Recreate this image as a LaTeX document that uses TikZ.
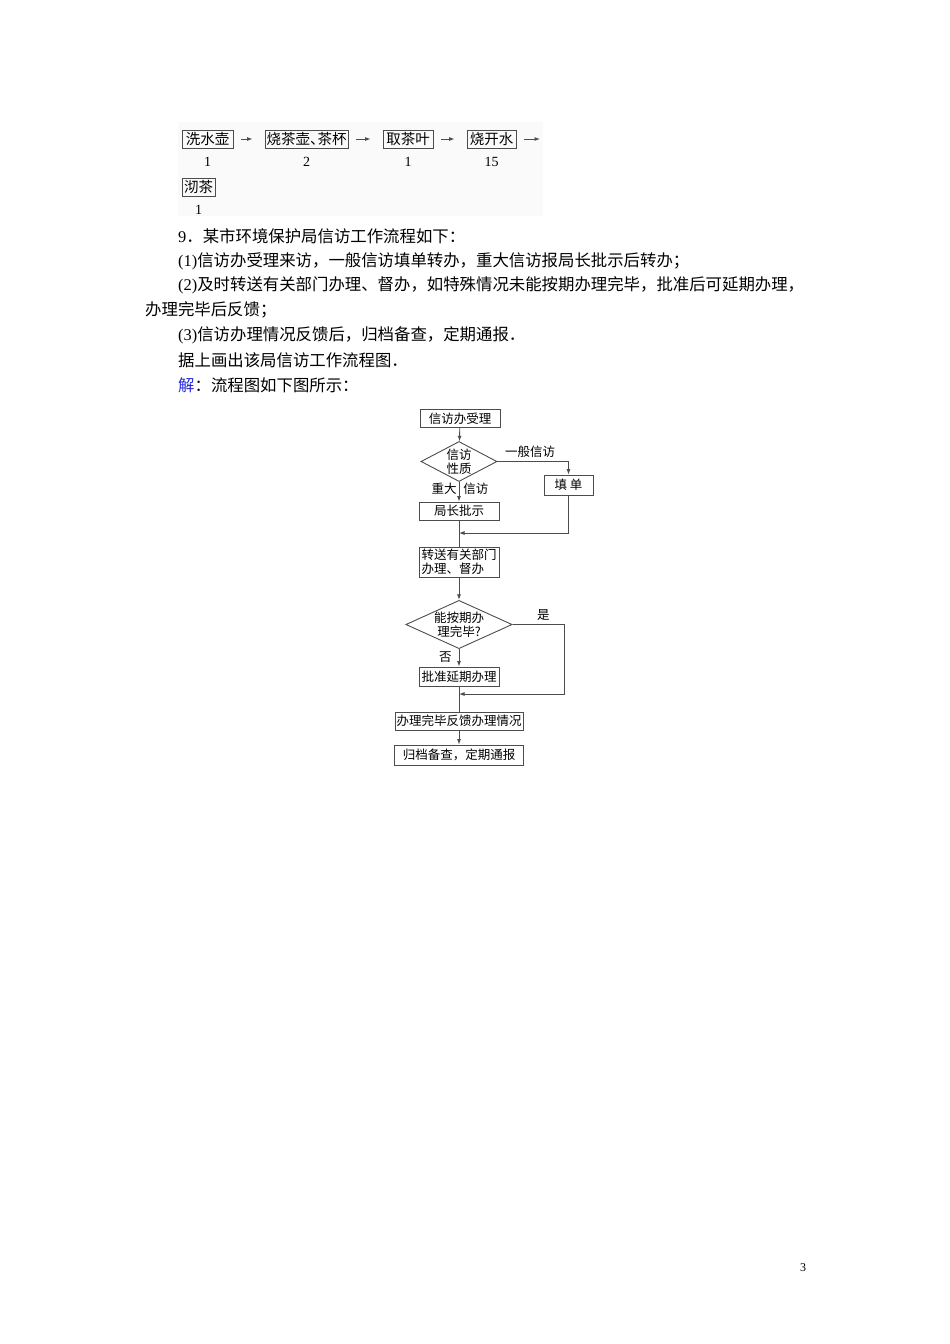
\documentclass[tikz,border=0pt]{standalone}
\usepackage{fontspec}
\setmainfont{Noto Sans CJK SC}
\newfontfamily\latin{Liberation Serif}
\usetikzlibrary{positioning,shapes.geometric,arrows.meta}
\definecolor{solblue}{RGB}{40,40,220}

\begin{document}
\begin{tikzpicture}[
		x=1pt, y=-1pt,
		line/.style={draw=black!70, line width=0.9pt},
		arrow/.style={line, -{Latex[length=5.5pt,width=4pt]}},
		jump/.style={arrow, shorten <=8pt, shorten >=12pt},
		stepbox/.style={draw=black!70, line width=0.9pt, inner sep=0pt, minimum height=18pt, font=\fontsize{14.5pt}{16pt}\selectfont},
		minutes/.style={inner sep=0pt, font=\latin\fontsize{14pt}{16pt}\selectfont},
		para/.style={anchor=west, inner sep=0pt, font=\fontsize{16.4pt}{18pt}\selectfont},
		box/.style={draw=black!70, line width=0.9pt, inner sep=0pt, minimum width=80pt, minimum height=18pt, font=\fontsize{12.5pt}{14pt}\selectfont},
		choice/.style={draw=black!70, line width=0.9pt, diamond, aspect=2, inner sep=0pt, align=center, font=\fontsize{12.5pt}{14pt}\selectfont},
		tag/.style={inner sep=0pt, font=\fontsize{12.5pt}{14pt}\selectfont}
	]
	\useasboundingbox (0,0) rectangle (950,1344);

	% tea steps
	\fill[black!2] (178,122) rectangle (543,216);
	\node[stepbox, minimum width=51pt] (wash) at (207.5,139) {洗水壶};
	\node[stepbox, minimum width=83pt] (heat) at (306.5,139) {烧茶壶、\kern-7pt 茶杯};
	\node[stepbox, minimum width=50pt] (take) at (408,139) {取茶叶};
	\node[stepbox, minimum width=49pt] (boil) at (491.5,139) {烧开水};
	\node[stepbox, minimum width=33pt] (brew) at (198.5,187) {沏茶};
	\coordinate (next) at (552,139);
	\node[minutes, below=9pt of wash] (t1) {1};
	\node[minutes, below=9pt of heat] (t2) {2};
	\node[minutes, below=9pt of take] (t3) {1};
	\node[minutes, below=9pt of boil] (t4) {15};
	\node[minutes, below=9pt of brew] (t5) {1};
	\draw[jump] (wash) -- (heat);
	\draw[jump] (heat) -- (take);
	\draw[jump] (take) -- (boil);
	\draw[jump] (boil) -- (next);

	% problem text
	\node[para] (q9) at (178,236) {{\latin 9}．某市环境保护局信访工作流程如下：};
	\node[para] (q1) at (178,261) {{\latin (1)}信访办受理来访，一般信访填单转办，重大信访报局长批示后转办；};
	\node[para] (q2) at (178,285) {{\latin (2)}及时转送有关部门办理、督办，如特殊情况未能按期办理完毕，批准后可延期办理，};
	\node[para] (q2b) at (145,310) {办理完毕后反馈；};
	\node[para] (q3) at (178,335) {{\latin (3)}信访办理情况反馈后，归档备查，定期通报．};
	\node[para] (ask) at (178,360) {据上画出该局信访工作流程图．};
	\node[para] (sol) at (178,385) {{\color{solblue}解}：流程图如下图所示：};

	% flow chart
	\node[box] (accept) at (460,418.5) {信访办受理};
	\node[choice, minimum width=76pt, minimum height=40pt] (kind) at (459,461.5) {信访\\性质};
	\node[box, minimum width=49pt, minimum height=20pt] (form) at (568.5,485) {填\ 单};
	\node[box] (chief) at (459,511) {局长批示};
	\node[box, minimum height=30pt, align=left] (forward) at (459,562) {转送有关部门\\办理、督办};
	\node[choice, aspect=2.2] (ontime) at (459,624.5) {能按期办\\理完毕?};
	\node[box, minimum height=19pt] (extend) at (459,676.5) {批准延期办理};
	\node[box, minimum width=128pt] (report) at (459,721) {办理完毕反馈办理情况};
	\node[box, minimum width=129pt, minimum height=20pt] (archive) at (459,755) {归档备查，定期通报};
	\coordinate (join1) at (459,533);
	\coordinate (yes) at (564,694);
	\coordinate (join2) at (459,694);

	\draw[arrow] (accept) -- (kind);
	\draw[arrow] (kind) -- node[tag, pos=0.33, left=2pt] {重大} node[tag, pos=0.33, right=4pt] {信访} (chief);
	\draw[arrow] (kind.east) -| node[tag, pos=0.23, above=3.5pt] {一般信访} (form.north);
	\draw[line] (chief) -- (forward);
	\draw[arrow] (form.south) |- (join1);
	\draw[arrow] (forward) -- (ontime);
	\draw[arrow] (ontime) -- node[tag, pos=0.44, left=7pt] {否} (extend);
	\draw[arrow] (ontime.east) -| node[tag, pos=0.3, above=4pt] {是} (yes) -- (join2);
	\draw[line] (extend) -- (report);
	\draw[arrow] (report) -- (archive);

	\node[minutes, font=\latin\fontsize{12pt}{14pt}\selectfont] (page) at (803,1268) {3};
\end{tikzpicture}
\end{document}
